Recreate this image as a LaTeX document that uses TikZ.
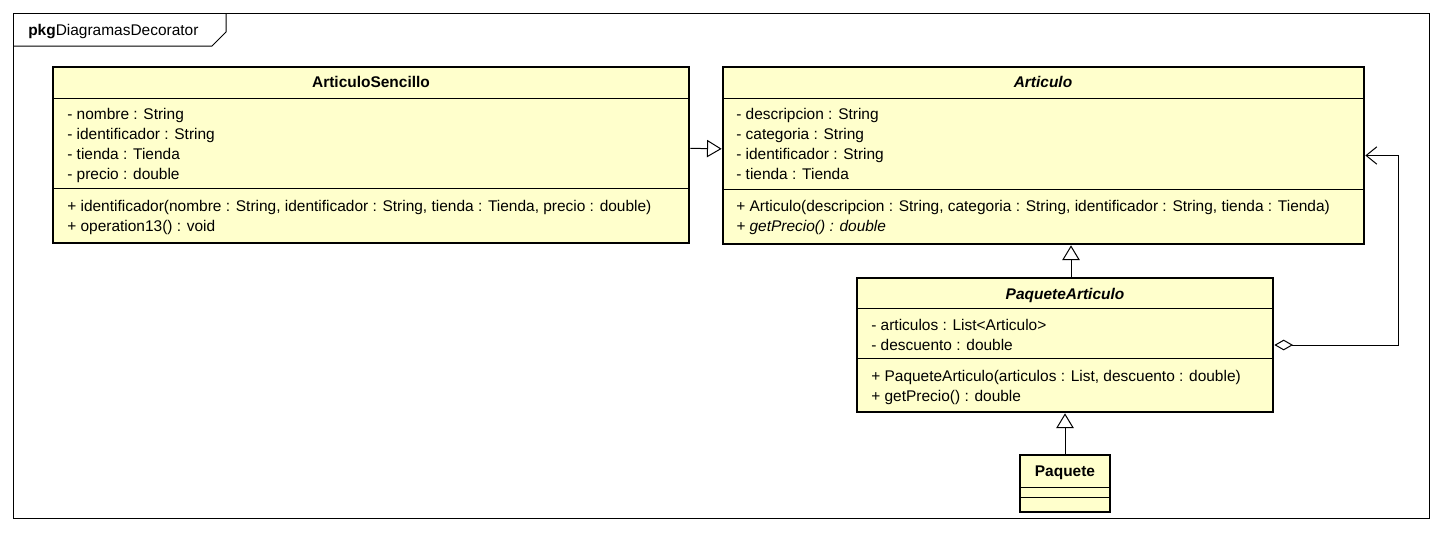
\documentclass[tikz,border=0pt]{standalone}
\usepackage{fontspec}
\setmainfont{Liberation Sans}
\usetikzlibrary{arrows.meta, fit}
\definecolor{umlyellow}{RGB}{255,255,204}

\begin{document}
\begin{tikzpicture}[
        x=0.75pt, y=-0.75pt,
        classbox/.style={draw, line width=2pt, fill=umlyellow, inner sep=0pt},
        member/.style={anchor=west, inner sep=0pt, text height=8.5pt, text depth=2.5pt, font=\fontsize{11.6}{13}\selectfont},
        classname/.style={inner sep=0pt, text height=8.5pt, text depth=2.5pt, font=\fontsize{11.6}{13}\selectfont\bfseries},
        divider/.style={line width=0.75pt},
        inherit/.style={-{Triangle[open, length=11pt, width=13pt]}, line width=0.75pt},
        aggregation/.style={{Diamond[open, length=14pt, width=8pt]}-{Straight Barb[length=8pt, width=13pt]}, line width=0.75pt}
    ]

    \fill[white] (0,0) rectangle (1441,532);
    \useasboundingbox (0,0) rectangle (1441,532);

    % Package frame
    \node[draw, line width=0.75pt, inner sep=0pt, fit={(13,13) (1429,518)}] (frame) {};
    \draw[line width=0.75pt] (13,46) -- (212,46) -- (226,32) -- (226,13);
    \node[member] (pkg) at (28,31) {\textbf{pkg}DiagramasDecorator};

    % ArticuloSencillo
    \node[classbox, fit={(53,67) (689,243)}] (sencillo) {};
    \draw[divider] (53,98) -- (689,98);
    \draw[divider] (53,188) -- (689,188);
    \node[classname] (sencillotitle) at (371,83) {ArticuloSencillo};
    \node[member] (s1) at (67,115) {- nombre : String};
    \node[member] (s2) at (67,135) {- identificador : String};
    \node[member] (s3) at (67,155) {- tienda : Tienda};
    \node[member] (s4) at (67,175) {- precio : double};
    \node[member] (s5) at (67,207) {+ identificador(nombre : String, identificador : String, tienda : Tienda, precio : double)};
    \node[member] (s6) at (67,227) {+ operation13() : void};

    % Articulo
    \node[classbox, fit={(723,67) (1364,244)}] (articulo) {};
    \draw[divider] (723,98) -- (1364,98);
    \draw[divider] (723,189) -- (1364,189);
    \node[classname, font=\fontsize{11.6}{13}\selectfont\bfseries\itshape] (articulotitle) at (1043,83) {Articulo};
    \node[member] (a1) at (736,115) {- descripcion : String};
    \node[member] (a2) at (736,135) {- categoria : String};
    \node[member] (a3) at (736,155) {- identificador : String};
    \node[member] (a4) at (736,175) {- tienda : Tienda};
    \node[member] (a5) at (736,207) {+ Articulo(descripcion : String, categoria : String, identificador : String, tienda : Tienda)};
    \node[member] (a6) at (736,227) {\itshape + getPrecio() : double};

    % PaqueteArticulo
    \node[classbox, fit={(857,278) (1273,412)}] (paquetearticulo) {};
    \draw[divider] (857,308) -- (1273,308);
    \draw[divider] (857,358) -- (1273,358);
    \node[classname, font=\fontsize{11.6}{13}\selectfont\bfseries\itshape] (paquetearticulotitle) at (1065,295) {PaqueteArticulo};
    \node[member] (p1) at (871,326) {- articulos : List<Articulo>};
    \node[member] (p2) at (871,346) {- descuento : double};
    \node[member] (p3) at (871,377) {+ PaqueteArticulo(articulos : List, descuento : double)};
    \node[member] (p4) at (871,397) {+ getPrecio() : double};

    % Paquete
    \node[classbox, fit={(1020,455) (1110,512)}] (paquete) {};
    \draw[divider] (1020,487) -- (1110,487);
    \draw[divider] (1020,497) -- (1110,497);
    \node[classname] (paquetetitle) at (1065,472) {Paquete};

    % Arrows
    \draw[inherit] ([yshift=5pt]sencillo.east) -- ([yshift=5pt]articulo.west);
    \draw[inherit] ([xshift=4.5pt]paquetearticulo.north) -- ([xshift=4.5pt]paquetearticulo.north |- articulo.south);
    \draw[inherit] (paquete) -- (paquete |- paquetearticulo.south);
    \draw[aggregation] (paquetearticulo.east) -- ++(124,0) |- (articulo.east);

\end{tikzpicture}
\end{document}
